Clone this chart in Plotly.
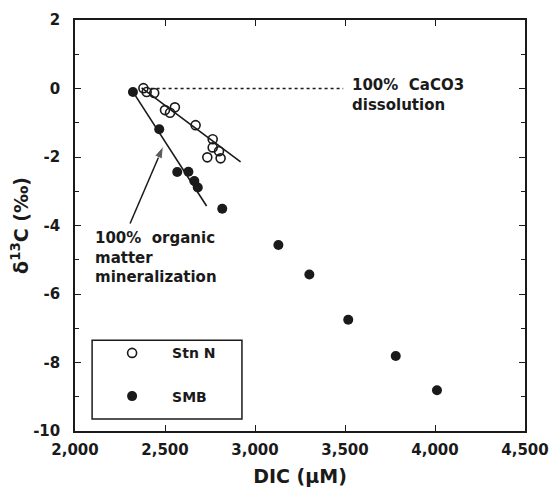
import plotly.graph_objects as go

# --- data ---
stn_x = [2380, 2398, 2440, 2500, 2528, 2555, 2670, 2765, 2765, 2800, 2735, 2809]
stn_y = [0.01, -0.10, -0.13, -0.63, -0.71, -0.55, -1.07, -1.48, -1.72, -1.83, -2.01, -2.04]

smb_x = [2322, 2468, 2568, 2630, 2663, 2682, 2818, 3130, 3302, 3518, 3782, 4011]
smb_y = [-0.10, -1.19, -2.44, -2.43, -2.70, -2.89, -3.51, -4.57, -5.43, -6.75, -7.81, -8.81]

# mixing lines
caco3_line_x = [2370, 2920]
caco3_line_y = [0.02, -2.14]
org_line_x = [2322, 2731]
org_line_y = [-0.10, -3.43]
dotted_x = [2420, 3490]
dotted_y = [0.0, 0.0]

# arrow pointing at the organic-matter line
arrow_x = [2306, 2491]
arrow_y = [-3.94, -1.68]

x_ticks = [2000, 2500, 3000, 3500, 4000, 4500]
x_labels = ["2,000", "2,500", "3,000", "3,500", "4,000", "4,500"]
y_ticks = [2, 0, -2, -4, -6, -8, -10]
y_labels = ["2", "0", "-2", "-4", "-6", "-8", "-10"]

FONT = "DejaVu Sans"
INK = "#1a1a1a"

fig = go.Figure()

fig.add_trace(go.Scatter(x=caco3_line_x, y=caco3_line_y, mode="lines",
                         line=dict(color=INK, width=1.6), showlegend=False, hoverinfo="skip"))
fig.add_trace(go.Scatter(x=org_line_x, y=org_line_y, mode="lines",
                         line=dict(color=INK, width=1.6), showlegend=False, hoverinfo="skip"))
fig.add_trace(go.Scatter(x=dotted_x, y=dotted_y, mode="lines",
                         line=dict(color=INK, width=1.4, dash="dot"), showlegend=False, hoverinfo="skip"))
fig.add_trace(go.Scatter(x=arrow_x, y=arrow_y, mode="lines+markers",
                         line=dict(color=INK, width=1.5),
                         marker=dict(symbol=["circle", "arrow"], size=[0, 13], color=INK,
                                     angleref="previous", standoff=0),
                         showlegend=False, hoverinfo="skip"))

fig.add_trace(go.Scatter(x=stn_x, y=stn_y, mode="markers", name="Stn N", legendgroup="a",
                         marker=dict(symbol="circle-open", size=9, color=INK, line=dict(width=1.6))))
fig.add_trace(go.Scatter(x=smb_x, y=smb_y, mode="markers", name="SMB", legendgroup="b",
                         marker=dict(symbol="circle", size=10, color=INK)))

# annotations
fig.add_annotation(x=3528, y=-0.18, xref="x", yref="y", xanchor="left", yanchor="middle",
                   text="100%  CaCO3<br>dissolution", showarrow=False, align="left",
                   font=dict(family=FONT, size=15, color=INK, weight="bold"))
fig.add_annotation(x=2100, y=-4.05, xref="x", yref="y", xanchor="left", yanchor="top",
                   text="100%  organic<br>matter<br>mineralization", showarrow=False, align="left",
                   font=dict(family=FONT, size=15, color=INK, weight="bold"))

# legend frame
fig.add_shape(type="rect", xref="paper", yref="paper", x0=0.038, x1=0.371, y0=0.029, y1=0.221,
              line=dict(color=INK, width=1.5), fillcolor="white", layer="below")

axis_common = dict(showline=True, linecolor=INK, linewidth=1.5, mirror="ticks",
                   ticks="inside", ticklen=6, tickwidth=1.2, tickcolor=INK,
                   showgrid=False, zeroline=False, automargin=False,
                   tickfont=dict(family=FONT, size=15, color=INK, weight="bold"))

fig.update_xaxes(range=[2000, 4500], tickvals=x_ticks, ticktext=x_labels,
                 title=dict(text="DIC (µM)", font=dict(family=FONT, size=19, color=INK, weight="bold"),
                            standoff=12),
                 ticklabelstandoff=4, **axis_common)
fig.update_yaxes(range=[-10, 2], tickvals=y_ticks, ticktext=y_labels,
                 minor=dict(dtick=1, ticks="inside", ticklen=4, tickcolor=INK),
                 title=dict(text="δ<sup>13</sup>C (‰)", font=dict(family=FONT, size=19, color=INK, weight="bold"),
                            standoff=4),
                 ticklabelstandoff=10, **axis_common)

# the page body adds an 8px offset, so the figure is sized 8px smaller
fig.update_layout(
    width=550, height=491,
    margin=dict(l=67, r=33, t=12, b=68),
    paper_bgcolor="white", plot_bgcolor="white",
    legend=dict(x=0.038, y=0.228, xanchor="left", yanchor="top",
                borderwidth=0, bgcolor="rgba(0,0,0,0)",
                font=dict(family=FONT, size=14, color=INK, weight="bold"),
                tracegroupgap=22, traceorder="grouped",
                itemwidth=70),
)

fig.write_html("out.html")
